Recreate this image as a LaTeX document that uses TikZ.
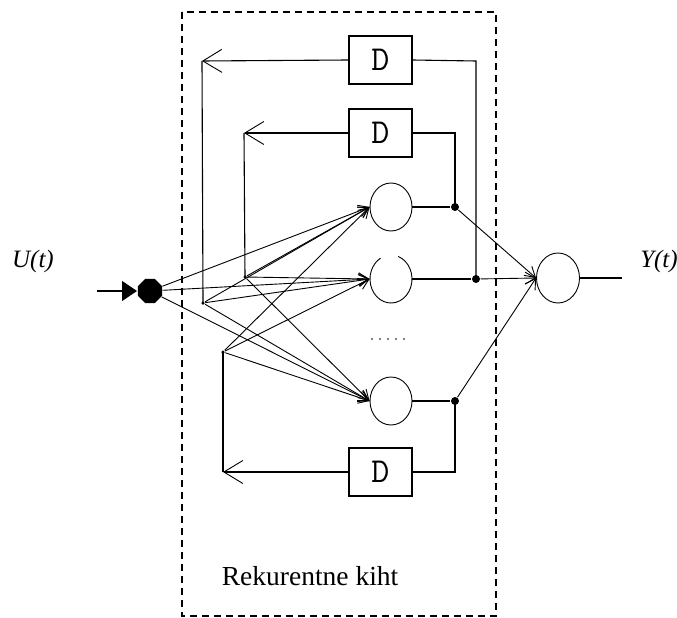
\documentclass[tikz,border=0pt]{standalone}
\usepackage{fontspec}
\setmainfont{Liberation Serif}
\usetikzlibrary{arrows.meta,shapes.geometric,calc}
\begin{document}
\begin{tikzpicture}[x=1pt,y=-1pt,line width=1.1pt,
  neuron/.style={ellipse,draw,line width=0.9pt,minimum width=42pt,minimum height=48pt,inner sep=0pt},
  delay/.style={rectangle,draw,minimum width=63pt,minimum height=48pt,inner sep=0pt,font=\ttfamily\fontsize{35}{35}\selectfont},
  joint/.style={circle,fill,inner sep=0pt,minimum size=8pt},
  tap/.style={circle,fill,inner sep=0pt,minimum size=3.5pt},
  link/.style={line width=0.9pt,-{Straight Barb[length=10pt,width=12pt,line width=0.9pt]}},
  back/.style={-{Straight Barb[length=19pt,width=23pt,line width=0.9pt]}},
  lbl/.style={font=\fontsize{25}{25}\selectfont\itshape}]
\useasboundingbox (0,0) rectangle (677,618);

% recurrent layer frame
\draw[line width=1.2pt,dash pattern=on 7pt off 5pt] (182,12) rectangle (496,616);
\node[anchor=base west,font=\fontsize{27.5}{27.5}\selectfont] (title) at (218,585) {Rekurentne kiht};

% input
\node[lbl] (ulab) at (33,261) {U(t)};
\coordinate (uin) at (97,291);
\coordinate (utip) at (137,291);
\node[regular polygon,regular polygon sides=8,fill,inner sep=0pt,minimum size=26pt] (inp) at (150,291) {};
\draw[-{Triangle[length=15pt,width=20pt]}] (uin) -- (utip);

% hidden neurons
\node[neuron] (c1) at (391,207) {};
\node[neuron,draw=none] (c2) at (391,279) {};
\draw[line width=0.9pt] ($(c2.center)+(-70:21 and 24)$) arc[start angle=-70,end angle=240,x radius=21,y radius=24];
\node[neuron] (c3) at (391,401) {};
\foreach \i in {0,...,4}
  \fill (372+\i*8,339) circle (0.9pt);

% output neuron
\node[neuron,minimum width=43pt,minimum height=50pt] (out) at (558,278) {};
\coordinate (yend) at (622,278);
\draw (out.east) -- (yend);
\node[lbl] (ylab) at (659,261) {Y(t)};

% delay units
\node[delay] (d1) at (380.5,60) {D};
\node[delay] (d2) at (380.5,133) {D};
\node[delay] (d3) at (380.5,472) {D};

% junctions
\node[joint] (j1) at (455,207) {};
\node[joint] (j2) at (476,279) {};
\node[joint] (j3) at (455,401) {};
\node[tap] (p1) at (203,303) {};
\node[tap] (p2) at (245,277) {};
\node[tap] (p3) at (223,352) {};

% feedback corners
\coordinate (k1) at (202,61);
\coordinate (k2) at (244,133);
\coordinate (k3) at (223,472);
\coordinate (r1) at (476,61);
\coordinate (r2) at (455,133);
\coordinate (r3) at (455,472);

% neuron outputs
\draw (c1.east) -- (j1);
\draw (c2.east) -- (j2);
\draw (c3.east) -- (j3);

% feedback loops
\draw (j2.center) -- (r1) -- (d1.east);
\draw[back] (d1.west) -- (k1);
\draw (k1) -- (p1.center);
\draw (j1.center) -- (r2) -- (d2.east);
\draw[back] (d2.west) -- (k2);
\draw (k2) -- (p2.center);
\draw (j3.center) -- (r3) -- (d3.east);
\draw[back] (d3.west) -- (k3);
\draw (k3) -- (p3.center);

% connections into the hidden neurons
\foreach \s in {inp,p1,p2,p3}{
  \draw[link] (\s) -- (c1.west);
  \draw[link] (\s) -- (c2.west);
  \draw[link] (\s) -- (c3.west);
}

% connections into the output neuron
\draw[link] (j1) -- (out.west);
\draw[link] (j2) -- (out.west);
\draw[link] (j3) -- (out.west);
\end{tikzpicture}
\end{document}
